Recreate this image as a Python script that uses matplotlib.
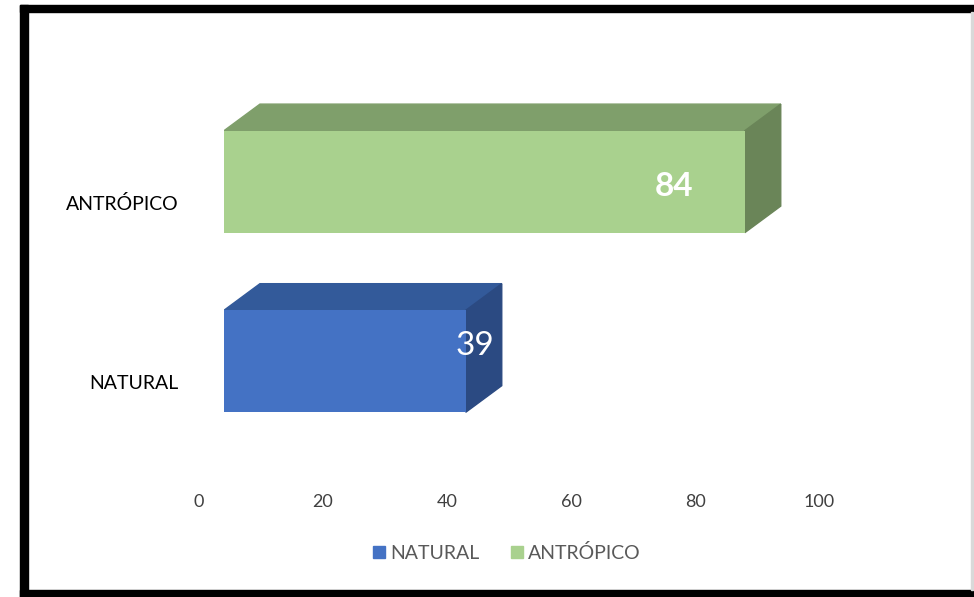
import matplotlib
matplotlib.use("Agg")
import matplotlib.pyplot as plt
from matplotlib.patches import Polygon, Rectangle, Patch
from matplotlib.transforms import ScaledTranslation

categories = ["NATURAL", "ANTRÓPICO"]
values = [39, 84]
xticks = [0, 20, 40, 60, 80, 100]

front = ["#4472C4", "#A9D18E"]
top = ["#335A9A", "#7F9F6B"]
side = ["#2B4A82", "#6A8558"]

plt.rcParams['font.family'] = ['Lato', 'DejaVu Sans']

fig = plt.figure(figsize=(9.74, 5.97), dpi=100)
fig.patch.set_facecolor("white")

# outer frame (black on left, top, bottom; light grey on right)
fig.patches.append(Rectangle((20/974, 0), 8/974, 592/597, transform=fig.transFigure,
                             color="black", zorder=0))
fig.patches.append(Rectangle((20/974, 585/597), 954/974, 7/597, transform=fig.transFigure,
                             color="black", zorder=0))
fig.patches.append(Rectangle((20/974, 0), 954/974, 7/597, transform=fig.transFigure,
                             color="black", zorder=0))
fig.patches.append(Rectangle((971/974, 7/597), 2/974, 578/597, transform=fig.transFigure,
                             color="#d9d9d9", zorder=0))

ax = fig.add_axes([224/974, (597-469)/597, 620/974, 422/597])
ax.set_xlim(0, 100)
ax.set_ylim(-0.6, 1.75)

h = 0.568
dx, dy = 5.8, 0.148
for i, v in enumerate(values):
    ax.barh(i, v, height=h, color=front[i], zorder=3)
    yt = i + h/2
    yb = i - h/2
    ax.add_patch(Polygon([(0, yt), (v, yt), (v+dx, yt+dy), (dx, yt+dy)],
                         closed=True, color=top[i], zorder=2))
    ax.add_patch(Polygon([(v, yb), (v+dx, yb+dy), (v+dx, yt+dy), (v, yt)],
                         closed=True, color=side[i], zorder=2))

ax.annotate(str(values[0]), (values[0], 0), xytext=(9, 15), textcoords="offset pixels",
            ha="center", va="center", color="white", fontsize=24, zorder=5)
ax.annotate(str(values[1]), (values[1], 1), xytext=(-71, -5), textcoords="offset pixels",
            ha="center", va="center", color="white", fontsize=24, fontweight="bold", zorder=5)

for s in ax.spines.values():
    s.set_visible(False)
ax.set_xticks(xticks)
ax.set_yticks(range(len(categories)))
ax.set_yticklabels(categories)
ax.tick_params(axis="x", length=0, pad=18, labelsize=13, labelcolor="#404040")
ax.tick_params(axis="y", length=0, pad=33, labelsize=14, labelcolor="black")
for lab in ax.get_xticklabels():
    lab.set_transform(lab.get_transform() + ScaledTranslation(-0.25, 0, fig.dpi_scale_trans))
for lab in ax.get_yticklabels():
    lab.set_transform(lab.get_transform() + ScaledTranslation(0, -0.21, fig.dpi_scale_trans))

handles = [Patch(color=front[0], label=categories[0]), Patch(color=front[1], label=categories[1])]
leg = fig.legend(handles=handles, loc="center", bbox_to_anchor=(507/974, 44/597), ncol=2,
                 frameon=False, fontsize=14, handlelength=0.6, handleheight=0.6,
                 handletextpad=0.3, columnspacing=1.6)
for t in leg.get_texts():
    t.set_color("#595959")

fig.savefig("out.png", dpi=100)
